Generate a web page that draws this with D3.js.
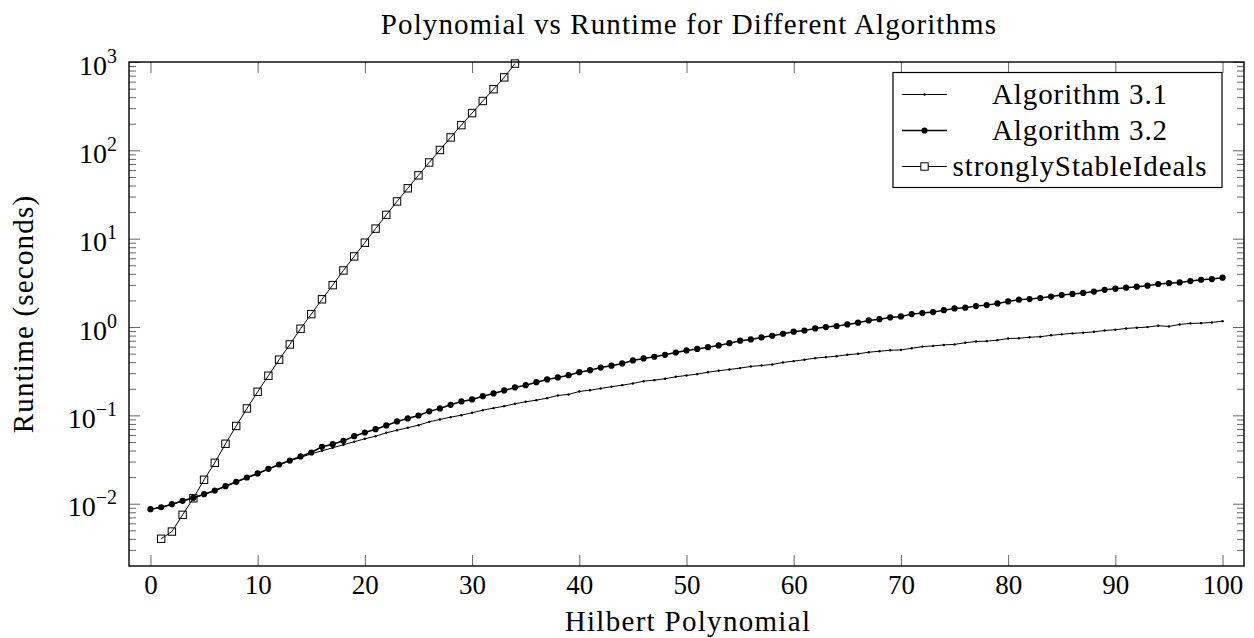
<!DOCTYPE html>
<html>
<head>
<meta charset="utf-8">
<script src="https://cdn.jsdelivr.net/npm/d3@7"></script>
<style>
  html, body { margin: 0; padding: 0; background: #fff; }
</style>
</head>
<body>
<div id="chart"></div>
<script>
// Hilbert polynomial values on the x axis
const hilbert = d3.range(0, 101)
const hilbertSSI = d3.range(1, 35)

// runtimes (seconds)
const alg31 = [0.0086, 0.0091, 0.0098, 0.0107, 0.0116, 0.0127, 0.0140, 0.0157, 0.0176, 0.0196,
    0.0218, 0.0246, 0.0274, 0.0306, 0.0334, 0.0367, 0.0397, 0.0430, 0.0465, 0.0503,
    0.0543, 0.0581, 0.0635, 0.0679, 0.0724, 0.0774, 0.0845, 0.0899, 0.0955, 0.1005,
    0.1070, 0.1146, 0.1208, 0.1272, 0.1353, 0.1426, 0.1486, 0.1567, 0.168, 0.1726,
    0.1866, 0.1928, 0.2018, 0.2109, 0.2198, 0.2297, 0.2438, 0.2506, 0.2596, 0.2735,
    0.2831, 0.2930, 0.3083, 0.3198, 0.3311, 0.3427, 0.3580, 0.3673, 0.3768, 0.3972,
    0.4111, 0.4266, 0.4446, 0.4561, 0.4678, 0.4853, 0.4978, 0.5188, 0.5321, 0.5458,
    0.5513, 0.5746, 0.6003, 0.6114, 0.6271, 0.6360, 0.6640, 0.6860, 0.6925, 0.7104,
    0.7405, 0.7469, 0.7658, 0.7772, 0.8056, 0.8267, 0.8484, 0.8612, 0.8828, 0.914,
    0.931, 0.964, 0.982, 0.998, 1.035, 1.016, 1.070, 1.099, 1.107, 1.127, 1.166]
const alg32 = [0.00867, 0.00912, 0.00987, 0.01079, 0.01166, 0.01282, 0.01412, 0.01578, 0.0177, 0.0198,
    0.0220, 0.0248, 0.0278, 0.0308, 0.0343, 0.0380, 0.0441, 0.0472, 0.0515, 0.0581,
    0.0640, 0.0698, 0.0769, 0.0853, 0.0923, 0.0997, 0.1110, 0.1198, 0.1318, 0.1437,
    0.1514, 0.165, 0.177, 0.1914, 0.207, 0.2198, 0.2377, 0.255, 0.2686, 0.285,
    0.308, 0.325, 0.348, 0.365, 0.387, 0.419, 0.441, 0.461, 0.485, 0.515,
    0.543, 0.565, 0.592, 0.619, 0.657, 0.700, 0.724, 0.763, 0.797, 0.839,
    0.885, 0.914, 0.964, 0.998, 1.024, 1.070, 1.119, 1.188, 1.228, 1.285,
    1.318, 1.400, 1.437, 1.475, 1.552, 1.624, 1.654, 1.725, 1.77, 1.85,
    1.95, 2.04, 2.07, 2.13, 2.21, 2.30, 2.37, 2.43, 2.52, 2.64,
    2.72, 2.79, 2.86, 2.94, 3.07, 3.14, 3.20, 3.31, 3.43, 3.49, 3.62]
const ssi = [0.00401, 0.00484, 0.00748, 0.01153, 0.01866, 0.02904, 0.0477, 0.0759, 0.1198, 0.185,
    0.281, 0.427, 0.635, 0.957, 1.40, 2.06, 2.98, 4.37, 6.30, 9.01,
    13.0, 18.6, 26.4, 37.2, 52.1, 72.9, 101, 140, 193, 264,
    362, 492, 670, 960]

const xTicks = [0, 10, 20, 30, 40, 50, 60, 70, 80, 90, 100]
const yExps = [-2, -1, 0, 1, 2, 3]
const seriesNames = ["Algorithm 3.1", "Algorithm 3.2", "stronglyStableIdeals"]

const FONT = "'Liberation Serif', 'Times New Roman', serif"
let width = 1254, height = 638
let pLeft = 129, pRight = 1244, pTop = 62, pBottom = 566
let svg = d3.select("#chart").append("svg")
    .attr("width", width)
    .attr("height", height)
    .style("font-family", FONT)

let x = d3.scaleLinear().domain([-2, 102]).range([pLeft, pRight])
let y = d3.scaleLog().domain([Math.pow(10, -2.705), 1000]).range([pBottom, pTop])

//刻度
let minor = []
for (let e = -3; e < 3; e++) {
    for (let m = 2; m <= 9; m++) {
        let v = m * Math.pow(10, e)
        if (v > y.domain()[0] * 1.02 && v < 1000) minor.push(v)
    }
}
let tickColor = "#666"
function styleAxis(g) {
    g.attr("font-family", null)
    g.select(".domain").remove()
    g.selectAll(".tick line").attr("stroke", tickColor).attr("stroke-width", 1)
}
svg.append("g").attr("transform", `translate(0,${pBottom})`)
    .call(d3.axisBottom(x).tickValues(xTicks).tickSizeInner(-11).tickSizeOuter(0).tickPadding(9).tickFormat(d3.format("d")))
    .call(styleAxis)
    .selectAll("text").attr("font-size", 27).style("font-family", FONT).attr("fill", "#000")
svg.append("g").attr("transform", `translate(0,${pTop})`)
    .call(d3.axisTop(x).tickValues(xTicks).tickSizeInner(-11).tickSizeOuter(0).tickFormat(""))
    .call(styleAxis)
let yAxisL = svg.append("g").attr("transform", `translate(${pLeft},0)`)
    .call(d3.axisLeft(y).tickValues(yExps.map(e => Math.pow(10, e))).tickSizeInner(-11).tickSizeOuter(0).tickPadding(12).tickFormat(""))
    .call(styleAxis)
svg.append("g").attr("transform", `translate(${pRight},0)`)
    .call(d3.axisRight(y).tickValues(yExps.map(e => Math.pow(10, e))).tickSizeInner(-11).tickSizeOuter(0).tickFormat(""))
    .call(styleAxis)
svg.append("g").attr("transform", `translate(${pLeft},0)`)
    .call(d3.axisLeft(y).tickValues(minor).tickSizeInner(-7).tickSizeOuter(0).tickFormat(""))
    .call(styleAxis)
svg.append("g").attr("transform", `translate(${pRight},0)`)
    .call(d3.axisRight(y).tickValues(minor).tickSizeInner(-7).tickSizeOuter(0).tickFormat(""))
    .call(styleAxis)

// 10^n labels
yAxisL.selectAll(".tick").each(function (d) {
    let t = d3.select(this).select("text")
        .attr("x", -12).attr("dy", null).attr("y", 12)
        .attr("text-anchor", "end").attr("font-size", 28)
        .attr("fill", "#000").style("font-family", FONT)
    t.append("tspan").text("10")
    t.append("tspan").attr("font-size", 20).attr("dy", -12).text(String(Math.round(Math.log10(d))).replace("-", "\u2212"))
})

// frame
svg.append("rect")
    .attr("x", pLeft).attr("y", pTop)
    .attr("width", pRight - pLeft).attr("height", pBottom - pTop)
    .attr("fill", "none").attr("stroke", "#000").attr("stroke-width", 1.4)

//数据线
let line = d3.line().x(d => x(d[0])).y(d => y(d[1]))
let d31 = hilbert.map((h, i) => [h, alg31[i]])
let d32 = hilbert.map((h, i) => [h, alg32[i]])
let dss = hilbertSSI.map((h, i) => [h, ssi[i]])

svg.append("path").attr("d", line(d31)).attr("fill", "none").attr("stroke", "#000").attr("stroke-width", 1)
svg.append("g").selectAll("circle").data(d31).enter().append("circle")
    .attr("cx", d => x(d[0])).attr("cy", d => y(d[1])).attr("r", 1.2).attr("fill", "#000")

svg.append("path").attr("d", line(d32)).attr("fill", "none").attr("stroke", "#000").attr("stroke-width", 1.5)
svg.append("g").selectAll("circle").data(d32).enter().append("circle")
    .attr("cx", d => x(d[0])).attr("cy", d => y(d[1])).attr("r", 3.1).attr("fill", "#000")

let sq = 7.4
svg.append("path").attr("d", line(dss)).attr("fill", "none").attr("stroke", "#000").attr("stroke-width", 1)
svg.append("g").selectAll("rect").data(dss).enter().append("rect")
    .attr("x", d => x(d[0]) - sq / 2).attr("y", d => y(d[1]) - sq / 2)
    .attr("width", sq).attr("height", sq)
    .attr("fill", "none").attr("stroke", "#000").attr("stroke-width", 1)

//图例
let lg = svg.append("g")
lg.append("rect").attr("x", 893).attr("y", 72.5).attr("width", 329).attr("height", 115)
    .attr("fill", "#fff").attr("stroke", "#000").attr("stroke-width", 1.2)
seriesNames.forEach((name, i) => {
    let cy = 94.5 + i * 36
    lg.append("line").attr("x1", 902).attr("x2", 947).attr("y1", cy).attr("y2", cy)
        .attr("stroke", "#000").attr("stroke-width", i == 1 ? 1.5 : 1)
    if (i == 0) lg.append("circle").attr("cx", 924.5).attr("cy", cy).attr("r", 1.2).attr("fill", "#000")
    if (i == 1) lg.append("circle").attr("cx", 924.5).attr("cy", cy).attr("r", 3.1).attr("fill", "#000")
    if (i == 2) lg.append("rect").attr("x", 924.5 - sq / 2).attr("y", cy - sq / 2).attr("width", sq).attr("height", sq)
        .attr("fill", "#fff").attr("stroke", "#000").attr("stroke-width", 1)
    lg.append("text").attr("x", 1080).attr("y", cy + 9).attr("text-anchor", "middle")
        .attr("font-size", 29).attr("letter-spacing", 0.9).style("font-family", FONT).text(name)
})

//标题
svg.append("text").attr("x", 689).attr("y", 34).attr("text-anchor", "middle")
    .attr("font-size", 29).attr("letter-spacing", 1.1).style("font-family", FONT)
    .text("Polynomial vs Runtime for Different Algorithms")
svg.append("text").attr("x", 688).attr("y", 631).attr("text-anchor", "middle")
    .attr("font-size", 29).attr("letter-spacing", 1.3).style("font-family", FONT).text("Hilbert Polynomial")
svg.append("text").attr("transform", `translate(33,${(pTop + pBottom) / 2}) rotate(-90)`)
    .attr("text-anchor", "middle").attr("font-size", 29).attr("letter-spacing", 1.2)
    .style("font-family", FONT).text("Runtime (seconds)")
</script>
</body>
</html>
